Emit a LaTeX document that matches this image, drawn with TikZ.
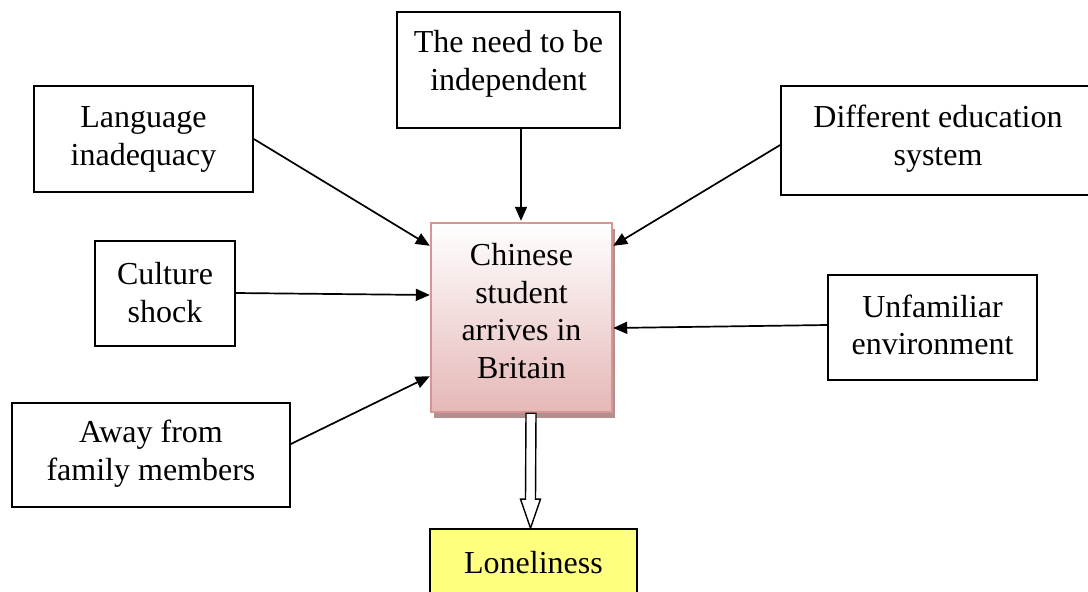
\documentclass[tikz,border=0pt]{standalone}
\usepackage{fontspec}
\setmainfont{Liberation Serif}
\usetikzlibrary{arrows.meta,calc}
\definecolor{mainedge}{HTML}{D99594}
\definecolor{mainlow}{HTML}{E5B8B7}
\definecolor{mainshade}{HTML}{B39090}
\definecolor{loneyellow}{HTML}{FFFF80}
\begin{document}
\begin{tikzpicture}[x=1pt,y=-1pt,
  box/.style={draw=black,line width=1.7pt,fill=white,inner sep=0pt},
  lbl/.style={align=center,inner sep=0pt,font=\fontsize{32}{37.5}\selectfont},
  cause/.style={draw=black,line width=1.7pt,-{Triangle[length=14pt,width=12pt]}}]
\useasboundingbox (0,0) rectangle (1088,592);

% surrounding causes
\node[box,minimum width=219pt,minimum height=106pt] (lang) at (143.5,139) {};
\node[lbl] at (143.5,139.5) {Language\\inadequacy};

\node[box,minimum width=223pt,minimum height=116pt] (need) at (508.5,70) {};
\node[lbl] at (508.5,64) {The need to be\\independent};

\node[box,minimum width=320pt,minimum height=109pt] (diff) at (941,140.5) {};
\node[lbl] at (938,138.5) {Different education\\system};

\node[box,minimum width=140pt,minimum height=105pt] (cult) at (165,293.5) {};
\node[lbl] at (165,292.5) {Culture\\shock};

\node[box,minimum width=209pt,minimum height=105pt] (unf) at (932.5,327.5) {};
\node[lbl] at (932.5,325) {Unfamiliar\\environment};

\node[box,minimum width=278pt,minimum height=104pt] (away) at (151,455) {};
\node[lbl] at (151,453.5) {Away from\\family members};

% central event, with its shadow
\fill[mainshade] (434,229) rectangle (615,418);
\node[draw=mainedge,line width=2.4pt,top color=white,bottom color=mainlow,
      minimum width=181pt,minimum height=189pt,inner sep=0pt] (main) at (521.5,317.5) {};
\node[lbl] at (521.5,311) {Chinese\\student\\arrives in\\Britain};

% outcome
\node[box,fill=loneyellow,minimum width=207pt,minimum height=80pt] (lone) at (533.5,569) {};
\node[lbl] at (533.5,563) {Loneliness};

% causes pointing to the central event
\draw[cause] (lang.east) -- ($(main.north west)+(0,24)$);
\draw[cause] ($(need.south)+(12.5,0)$) -- ($(main.north)+(-0.5,-1)$);
\draw[cause] ($(diff.west)+(0,4.5)$) -- ($(main.north east)+(0,24)$);
\draw[cause] ($(cult.east)+(0,-0.5)$) -- ($(main.west)+(0,-22.5)$);
\draw[cause] ($(unf.west)+(0,-2.5)$) -- ($(main.east)+(0,10.5)$);
\draw[cause] ($(away.east)+(0,-11)$) -- ($(main.south west)+(0,-37)$);

% block arrow from the central event down to the outcome
\coordinate (bt) at ($(main.south)+(9.5,0)$);
\coordinate (bh) at ($(lone.north)+(-3,0)$);
\draw[line width=1.4pt,fill=white,line join=miter]
  ($(bt)+(-5,0)$) -- ($(bh)+(-5,-29)$) -- ($(bh)+(-10,-29)$) -- (bh)
  -- ($(bh)+(10,-29)$) -- ($(bh)+(5,-29)$) -- ($(bt)+(5,0)$) -- cycle;
\end{tikzpicture}
\end{document}
